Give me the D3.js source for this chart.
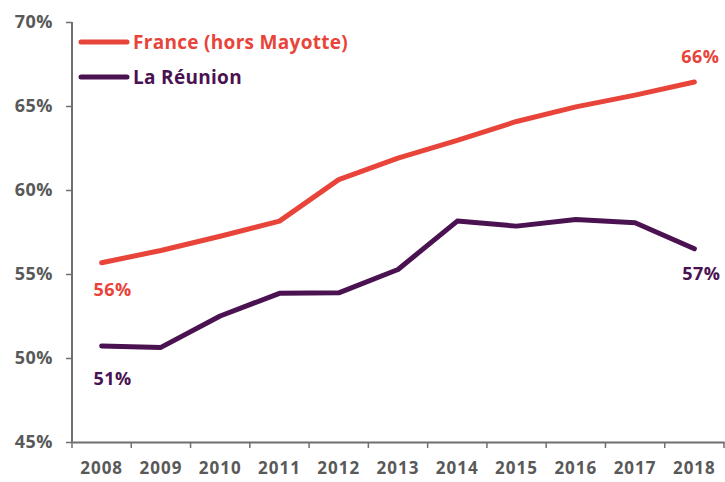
<!DOCTYPE html>
<html>
<head>
<meta charset="utf-8">
<script src="https://cdn.jsdelivr.net/npm/d3@7"></script>
<style>
  body { margin: 0; background: #fff; }
  svg { display: block; font-family: "Open Sans", sans-serif; font-weight: 700; }
</style>
</head>
<body>
<script>
// data
var years = ["2008", "2009", "2010", "2011", "2012", "2013", "2014", "2015", "2016", "2017", "2018"];
var france = [55.67, 56.4, 57.25, 58.15, 60.62, 61.9, 62.95, 64.08, 64.95, 65.65, 66.43];
var reunion = [50.71, 50.63, 52.5, 53.85, 53.88, 55.27, 58.15, 57.85, 58.25, 58.05, 56.5];
var yTicks = [45, 50, 55, 60, 65, 70];

var seriesNames = ["France (hors Mayotte)", "La Réunion"];
var colors = ["#E8443A", "#4A1250"];

var width = 725, height = 482;
var margin = {top: 22, right: 1, bottom: 40, left: 72};

var svg = d3.select("body").append("svg")
    .attr("width", width)
    .attr("height", height);

var x = d3.scaleBand()
    .domain(years)
    .range([margin.left, width - margin.right]);

var y = d3.scaleLinear()
    .domain([45, 70])
    .range([height - margin.bottom, margin.top]);

var axisColor = "#6f6f6f";
var textColor = "#595959";

// axes
var gx = svg.append("g")
    .attr("transform", "translate(0," + y(45) + ")")
    .call(d3.axisBottom(x).tickSize(0).tickPadding(20));
gx.select(".domain").attr("stroke", axisColor).attr("stroke-width", 2);
gx.selectAll("text").attr("fill", textColor).style("font-size", "17px")
    .style("letter-spacing", "1px")
    .style("font-family", "'Open Sans', sans-serif").style("font-weight", 700);

// tick marks between categories
var bounds = years.map(function(d) { return x(d); }).concat([x.range()[1]]);
svg.append("g").selectAll("line")
  .data(bounds)
  .enter().append("line")
    .attr("x1", function(d) { return d; })
    .attr("x2", function(d) { return d; })
    .attr("y1", y(45))
    .attr("y2", y(45) + 6)
    .attr("stroke", axisColor)
    .attr("stroke-width", 1.5);

var gy = svg.append("g")
    .attr("transform", "translate(" + margin.left + ",0)")
    .call(d3.axisLeft(y).tickValues(yTicks).tickSize(6).tickPadding(13)
      .tickFormat(function(d) { return d + "%"; }));
gy.select(".domain").attr("stroke", axisColor).attr("stroke-width", 2)
    .attr("d", "M0," + y(70) + "V" + y(45));
gy.selectAll(".tick line").attr("stroke", axisColor).attr("stroke-width", 1.5);
gy.selectAll("text").attr("fill", textColor).style("font-size", "18px")
    .style("letter-spacing", "0.5px")
    .style("font-family", "'Open Sans', sans-serif").style("font-weight", 700);

// lines
var line = d3.line()
    .x(function(d, i) { return x(years[i]) + x.bandwidth() / 2; })
    .y(function(d) { return y(d); });

[france, reunion].forEach(function(s, k) {
  svg.append("path")
    .datum(s)
    .attr("fill", "none")
    .attr("stroke", colors[k])
    .attr("stroke-width", 5)
    .attr("stroke-linejoin", "round")
    .attr("stroke-linecap", "round")
    .attr("d", line);
});

// end labels
var labels = [
  {s: 0, i: 0, dx: 11, dy: 26},
  {s: 0, i: 10, dx: 6, dy: -26},
  {s: 1, i: 0, dx: 11, dy: 32},
  {s: 1, i: 10, dx: 7, dy: 24}
];
svg.append("g").selectAll("text")
  .data(labels)
  .enter().append("text")
    .attr("x", function(d) { return x(years[d.i]) + x.bandwidth() / 2 + d.dx; })
    .attr("y", function(d) { return y([france, reunion][d.s][d.i]) + d.dy; })
    .attr("text-anchor", "middle")
    .attr("dominant-baseline", "central")
    .attr("fill", function(d) { return colors[d.s]; })
    .style("font-size", "18px")
    .style("letter-spacing", "0.5px")
    .text(function(d) { return Math.round([france, reunion][d.s][d.i]) + "%"; });

// legend
var legend = svg.append("g").selectAll("g")
  .data(seriesNames)
  .enter().append("g")
    .attr("transform", function(d, i) { return "translate(81," + (42 + i * 35) + ")"; });
legend.append("line")
    .attr("x1", 0).attr("x2", 46)
    .attr("stroke", function(d, i) { return colors[i]; })
    .attr("stroke-width", 5)
    .attr("stroke-linecap", "round");
legend.append("text")
    .attr("x", 52)
    .attr("dominant-baseline", "central")
    .attr("fill", function(d, i) { return colors[i]; })
    .style("font-size", "19px")
    .style("letter-spacing", "0.3px")
    .text(function(d) { return d; });
</script>
</body>
</html>
